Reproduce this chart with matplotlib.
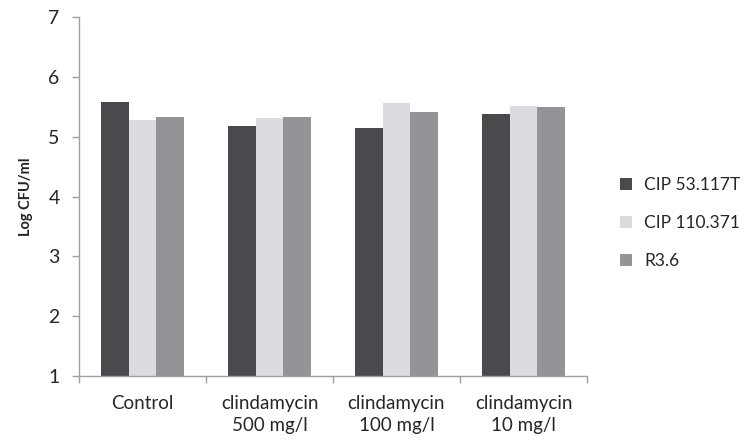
import matplotlib
matplotlib.use("Agg")
import matplotlib.pyplot as plt
import numpy as np
from matplotlib.patches import Patch

categories = ["Control", "clindamycin\n500 mg/l", "clindamycin\n100 mg/l", "clindamycin\n10 mg/l"]
series_names = ["CIP 53.117T", "CIP 110.371", "R3.6"]
cip53117 = [5.58, 5.18, 5.14, 5.38]
cip110371 = [5.28, 5.31, 5.56, 5.52]
r36 = [5.33, 5.33, 5.42, 5.49]
colors = ["#4a4a4e", "#dcdce0", "#949498"]

plt.rcParams['font.family'] = ['Lato', 'DejaVu Sans']

fig = plt.figure(figsize=(7.49, 4.43), dpi=100)
W, H = 749, 443
ax = fig.add_axes([79 / W, 1 - 376 / H, (587 - 79) / W, (376 - 17) / H])

x = np.arange(len(categories))
bw = 0.217
for i, (vals, c) in enumerate(zip([cip53117, cip110371, r36], colors)):
    ax.bar(x + (i - 1) * bw, np.array(vals) - 1, bottom=1, width=bw, color=c, edgecolor='none')

ax.set_xlim(-0.5, len(categories) - 0.5)
ax.set_ylim(1, 7)
ax.set_yticks(range(1, 8))
ax.set_xticks(x)
ax.set_xticklabels(categories, fontsize=13.5, color="#262626", linespacing=1.3)
ax.tick_params(axis='x', which='major', length=0, pad=14)
ax.set_xticks(np.arange(-0.5, len(categories)), minor=True)
ax.tick_params(axis='x', which='minor', length=5, color="#a0a0a0", width=1)
ax.tick_params(axis='y', length=5, color="#a0a0a0", width=1, labelsize=14, labelcolor="#262626", pad=9)
for s in ['top', 'right']:
    ax.spines[s].set_visible(False)
for s in ['left', 'bottom']:
    ax.spines[s].set_color("#a0a0a0")
    ax.spines[s].set_linewidth(1)
ax.set_ylabel("Log CFU/ml", fontsize=10.5, fontweight='bold', color="#222222", labelpad=11)

handles = [Patch(facecolor=c, edgecolor='none') for c in colors]
fig.legend(handles, series_names, loc='center left', bbox_to_anchor=(620 / W, 1 - 223 / H),
           frameon=False, fontsize=12.5, handlelength=0.7, handleheight=0.7,
           labelspacing=1.25, handletextpad=0.7, borderpad=0, borderaxespad=0,
           labelcolor="#262626")

fig.savefig("out.png", dpi=100)
